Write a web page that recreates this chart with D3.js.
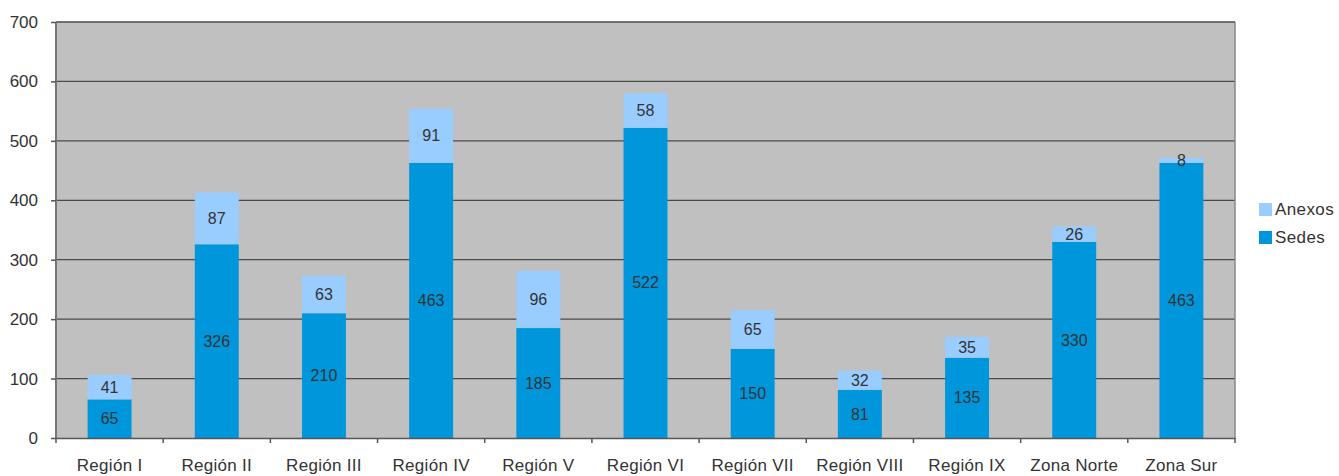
<!DOCTYPE html>
<html><head><meta charset="utf-8">
<script src="https://cdn.jsdelivr.net/npm/d3@7"></script>
<style>body{margin:0;background:#fff;}text{font-family:"Liberation Sans",Arial,sans-serif;}</style>
</head><body>
<svg id="c" width="1339" height="476"></svg>
<script>
const categories = ["Región I","Región II","Región III","Región IV","Región V","Región VI","Región VII","Región VIII","Región IX","Zona Norte","Zona Sur"];
const sedes = [65,326,210,463,185,522,150,81,135,330,463];
const anexos = [41,87,63,91,96,58,65,32,35,26,8];
const yTicks = [0,100,200,300,400,500,600,700];
const seriesNames = ["Sedes","Anexos"];
const colors = {Sedes:"#0096db", Anexos:"#99ccff"};

const svg = d3.select("#c");
const L=56, R=1235, T=22, B=438;
const x = d3.scaleBand().domain(categories).range([L,R]).paddingInner(0.59).paddingOuter(0.295);
const y = d3.scaleLinear().domain([0,700]).range([B,T]);

svg.append("rect").attr("x",L).attr("y",T).attr("width",R-L).attr("height",B-T).attr("fill","#c0c0c0");
svg.append("g").selectAll("line").data(yTicks.filter(d=>d>0)).join("line")
  .attr("x1",L).attr("x2",R).attr("y1",d=>y(d)).attr("y2",d=>y(d)).attr("stroke","#4a4a4a").attr("stroke-width",1.2);

const data = categories.map((c,i)=>({cat:c,Sedes:sedes[i],Anexos:anexos[i]}));
const stack = d3.stack().keys(seriesNames)(data);
const g = svg.append("g");
stack.forEach(s=>{
  g.selectAll(null).data(s).join("rect")
    .attr("x",d=>x(d.data.cat)).attr("width",x.bandwidth())
    .attr("y",d=>y(d[1])).attr("height",d=>y(d[0])-y(d[1]))
    .attr("fill",colors[s.key]);
  g.selectAll(null).data(s).join("text")
    .attr("x",d=>x(d.data.cat)+x.bandwidth()/2).attr("y",d=>(y(d[0])+y(d[1]))/2)
    .attr("dy","0.35em").attr("text-anchor","middle").attr("font-size",16).attr("fill","#333")
    .text(d=>d.data[s.key]);
});

svg.append("line").attr("x1",L).attr("x2",L).attr("y1",T).attr("y2",B).attr("stroke","#777").attr("stroke-width",2);
svg.append("line").attr("x1",R).attr("x2",R).attr("y1",T).attr("y2",B).attr("stroke","#888").attr("stroke-width",1.5);
svg.append("line").attr("x1",L).attr("x2",R).attr("y1",T).attr("y2",T).attr("stroke","#666").attr("stroke-width",1.5);

const ya = svg.append("g").attr("transform",`translate(${L},0)`)
  .call(d3.axisLeft(y).tickValues(yTicks).tickSize(5).tickPadding(13));
ya.select(".domain").remove();
ya.selectAll("line").attr("stroke","#555").attr("stroke-width",1.5);
ya.selectAll("text").attr("font-size",17).attr("fill","#333").style("font-family","Liberation Sans, Arial, sans-serif");

const xa = svg.append("g").attr("transform",`translate(0,${B})`)
  .call(d3.axisBottom(x).tickSize(0).tickPadding(21));
xa.select(".domain").attr("stroke","#555").attr("stroke-width",1.5);
xa.selectAll("text").attr("font-size",17).attr("fill","#333").attr("letter-spacing","0.3px").style("font-family","Liberation Sans, Arial, sans-serif");
const bounds = d3.range(categories.length+1).map(i=>L+i*(R-L)/categories.length);
svg.append("g").selectAll("line").data(bounds).join("line")
  .attr("x1",d=>d).attr("x2",d=>d).attr("y1",B).attr("y2",B+5).attr("stroke","#555").attr("stroke-width",1.5);

const leg = svg.append("g");
["Anexos","Sedes"].forEach((k,i)=>{
  leg.append("rect").attr("x",1259).attr("y",203+i*28).attr("width",13).attr("height",13).attr("fill",colors[k]);
  leg.append("text").attr("x",1275).attr("y",209.5+i*28).attr("dy","0.35em").attr("font-size",17).attr("letter-spacing","0.4px").attr("fill","#333").text(k);
});
</script>
</body></html>
